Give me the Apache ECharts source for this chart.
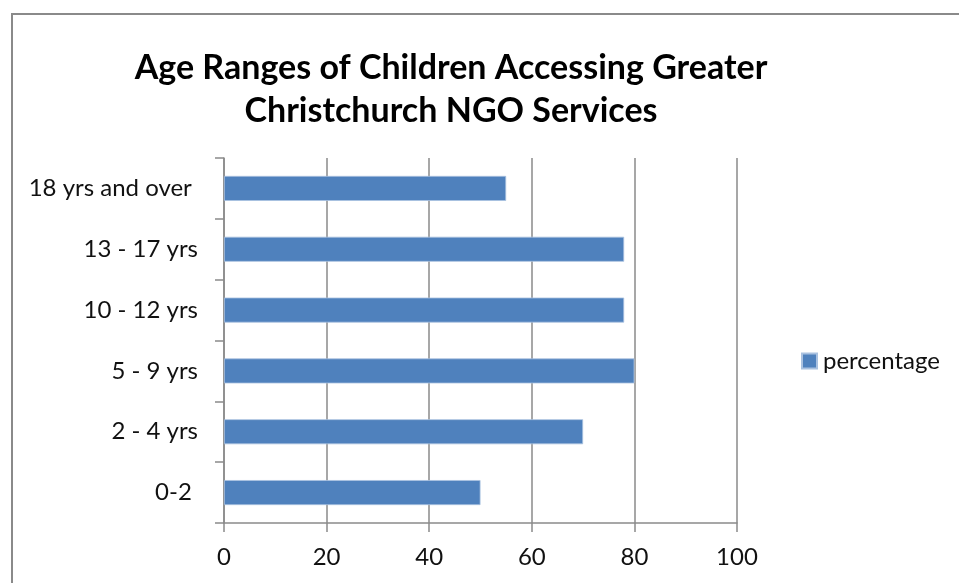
<!DOCTYPE html>
<html><head><meta charset="utf-8">
<script src="https://cdn.jsdelivr.net/npm/echarts@6/dist/echarts.min.js"></script>
<style>html,body{margin:0;padding:0;background:#fff;}#c{width:959px;height:583px;}
#frame{position:absolute;left:11px;top:13px;width:960px;height:600px;border:2px solid #8a8a8a;box-sizing:border-box;pointer-events:none;}</style>
</head><body>
<div id="c"></div><div id="frame"></div>
<script>
const categories = ['0-2 ', '2 - 4 yrs', '5 - 9 yrs', '10 - 12 yrs', '13 - 17 yrs', '18 yrs and over '];
const percentage = [50, 70, 80, 78, 78, 55];
const xTicks = [0, 20, 40, 60, 80, 100];
const F = 'Lato, "Open Sans", sans-serif';
const chart = echarts.init(document.getElementById('c'));
chart.setOption({
  animation: false,
  backgroundColor: '#fff',
  title: {
    text: 'Age Ranges of Children Accessing Greater\nChristchurch NGO Services',
    left: 446, top: 42, textAlign: 'center',
    textStyle: {fontFamily: F, fontWeight: 'bold', fontSize: 34, lineHeight: 43, color: '#000'}
  },
  legend: {
    data: ['percentage'], orient: 'vertical', left: 796, top: 344,
    itemWidth: 15, itemHeight: 15, itemGap: 6, icon: 'rect',
    textStyle: {fontFamily: F, fontSize: 24, color: '#111', padding: [0,0,0,1]}
  },
  grid: {left: 224, right: 222, top: 158, bottom: 60, containLabel: false},
  xAxis: {
    type: 'value', min: 0, max: 100, interval: 20,
    axisLine: {show: true, lineStyle: {color: '#8a8a8a', width: 1.5}},
    axisTick: {show: true, length: 9, lineStyle: {color: '#8a8a8a', width: 1.5}},
    axisLabel: {fontFamily: F, fontSize: 24, color: '#111', margin: 22,
      formatter: v => xTicks.includes(v) ? String(v) : ''},
    splitLine: {show: true, lineStyle: {color: '#8a8a8a', width: 1.5}}
  },
  yAxis: {
    type: 'category', data: categories,
    axisLine: {show: true, lineStyle: {color: '#8a8a8a', width: 1.5}},
    axisTick: {show: true, length: 9, alignWithLabel: false, lineStyle: {color: '#8a8a8a', width: 1.5}},
    axisLabel: {fontFamily: F, fontSize: 24, color: '#111', margin: 26},
    splitLine: {show: false}
  },
  series: [{
    name: 'percentage', type: 'bar', data: percentage, barWidth: 25,
    itemStyle: {color: '#4f81bd', borderColor: '#a9c1e0', borderWidth: 0.8}
  }]
});
</script>
</body></html>
